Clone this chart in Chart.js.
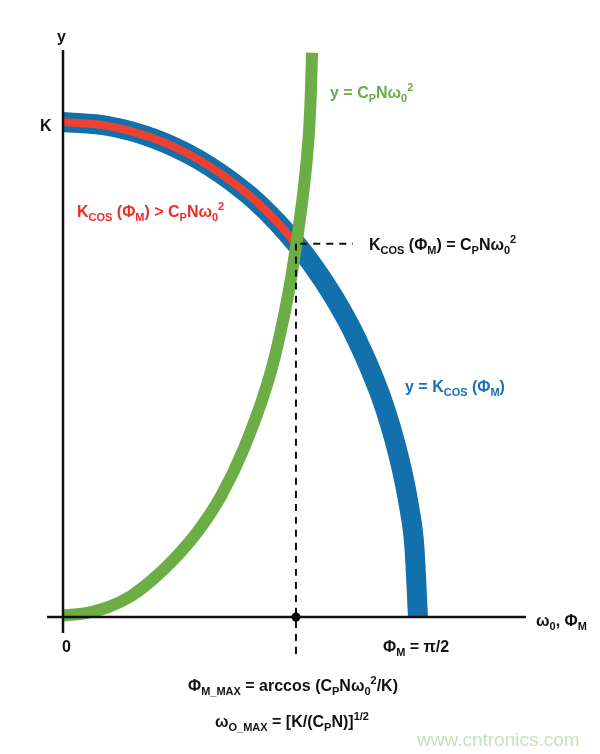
<!DOCTYPE html>
<html>
<head>
<meta charset="utf-8">
<script src="https://cdn.jsdelivr.net/npm/chart.js@4"></script>
<style>
  body { margin: 0; background: #fff; }
  #wrap { width: 600px; height: 754px; }
</style>
</head>
<body>
<div id="wrap"><canvas id="myChart"></canvas></div>
<script>
// x: omega_0 / Phi_M (phase in rad), y: in units of K
const blueX = [0, 0.2, 0.4, 0.6, 0.8, 0.9, 1.0, 1.1, 1.2, 1.3, 1.4, 1.45, 1.5, 1.53, 1.555, 1.571];
const blueY = [1.0, 0.992, 0.967, 0.924, 0.861, 0.820, 0.771, 0.714, 0.645, 0.561, 0.454, 0.385, 0.297, 0.227, 0.142, 0];

const redX = [0, 0.2, 0.4, 0.6, 0.8, 0.9, 1.0, 1.04];
const redY = [1.0, 0.992, 0.967, 0.924, 0.861, 0.820, 0.771, 0.749];

const greenX = [0, 0.1, 0.2, 0.3, 0.4, 0.5, 0.6, 0.7, 0.8, 0.9, 0.95, 1.0, 1.03, 1.06, 1.08, 1.09, 1.097, 1.102];
const greenY = [0.003, 0.008, 0.020, 0.042, 0.077, 0.121, 0.175, 0.245, 0.340, 0.465, 0.550, 0.660, 0.745, 0.845, 0.930, 0.990, 1.060, 1.140];

// crossing point and its guide lines
const vDashX = [1.031, 1.031];
const vDashY = [0.754, -0.081];
const hDashX = [1.05, 1.283];
const hDashY = [0.754, 0.754];
const dotX = [1.031];
const dotY = [0];

function pts(xs, ys) {
    return xs.map((x, i) => ({ x: x, y: ys[i] }));
}

function rich(ctx, x, y, parts, color) {
    ctx.fillStyle = color;
    ctx.textAlign = "left";
    ctx.textBaseline = "alphabetic";
    parts.forEach(p => {
        let dy = 0;
        if (p[1] === "sub") { ctx.font = "bold 11px 'Liberation Sans', Arial"; dy = 4; }
        else if (p[1] === "sup") { ctx.font = "bold 11px 'Liberation Sans', Arial"; dy = -7; }
        else if (p[1] === "big") { ctx.font = "19px 'Liberation Sans', Arial"; }
        else { ctx.font = "bold 16px 'Liberation Sans', Arial"; }
        ctx.fillText(p[0], x, y + dy);
        x += ctx.measureText(p[0]).width;
    });
}

const axesPlugin = {
    id: "axes",
    afterDatasetsDraw(chart) {
        const ctx = chart.ctx;
        const a = chart.chartArea;
        const x0 = chart.scales.x.getPixelForValue(0);
        const y0 = chart.scales.y.getPixelForValue(0);
        ctx.save();
        ctx.strokeStyle = "#111";
        ctx.lineWidth = 2.5;
        ctx.beginPath();
        ctx.moveTo(a.left, y0);
        ctx.lineTo(a.right, y0);
        ctx.moveTo(x0, a.top);
        ctx.lineTo(x0, a.bottom);
        ctx.stroke();

        // dot where the guide meets the axis
        const dx = chart.scales.x.getPixelForValue(dotX[0]);
        const dy = chart.scales.y.getPixelForValue(dotY[0]);
        ctx.fillStyle = "#000";
        ctx.beginPath();
        ctx.arc(dx, dy, 4.5, 0, Math.PI * 2);
        ctx.fill();

        const black = "#111";
        rich(ctx, 57, 42, [["y", ""]], black);
        rich(ctx, 40, 131, [["K", ""]], black);
        rich(ctx, 62, 652, [["0", ""]], black);

        rich(ctx, 330, 98, [["y = C", ""], ["P", "sub"], ["N\u03c9", ""], ["0", "sub"], ["2", "sup"]], "#6aae45");
        rich(ctx, 77, 217, [["K", ""], ["COS", "sub"], [" (\u03a6", ""], ["M", "sub"], [") > C", ""], ["P", "sub"], ["N\u03c9", ""], ["0", "sub"], ["2", "sup"]], "#ea2e2a");
        rich(ctx, 369, 250, [["K", ""], ["COS", "sub"], [" (\u03a6", ""], ["M", "sub"], [") = C", ""], ["P", "sub"], ["N\u03c9", ""], ["0", "sub"], ["2", "sup"]], black);
        rich(ctx, 405, 392, [["y = K", ""], ["COS", "sub"], [" (\u03a6", ""], ["M", "sub"], [")", ""]], "#1a72b2");

        rich(ctx, 536, 626, [["\u03c9", ""], ["0", "sub"], [", \u03a6", ""], ["M", "sub"]], black);
        rich(ctx, 383, 652, [["\u03a6", ""], ["M", "sub"], [" = \u03c0/2", ""]], black);
        rich(ctx, 188, 691, [["\u03a6", ""], ["M_MAX", "sub"], [" = arccos (C", ""], ["P", "sub"], ["N\u03c9", ""], ["0", "sub"], ["2", "sup"], ["/K)", ""]], black);
        rich(ctx, 215, 727, [["\u03c9", ""], ["O_MAX", "sub"], [" = [K/(C", ""], ["P", "sub"], ["N)]", ""], ["1/2", "sup"]], black);
        rich(ctx, 417, 746, [["www.cntronics.com", "big"]], "#c4e3b8");
        ctx.restore();
    }
};

const line = {
    pointRadius: 0,
    fill: false,
    borderCapStyle: "butt",
    cubicInterpolationMode: "monotone",
    clip: false
};

new Chart("myChart", {
    type: "line",
    data: {
        datasets: [
            Object.assign({}, line, { data: pts(vDashX, vDashY), borderColor: "#111", borderWidth: 2, borderDash: [7, 6], order: 0 }),
            Object.assign({}, line, { data: pts(hDashX, hDashY), borderColor: "#111", borderWidth: 2, borderDash: [7, 6], order: 0 }),
            Object.assign({}, line, { data: pts(greenX, greenY), borderColor: "#6aae45", borderWidth: 12, order: 1 }),
            Object.assign({}, line, { data: pts(redX, redY), borderColor: "#ee4130", borderWidth: 8, order: 2 }),
            Object.assign({}, line, { data: pts(blueX, blueY), borderColor: "#1271ac", borderWidth: 20, order: 3 })
        ]
    },
    options: {
        responsive: true,
        maintainAspectRatio: false,
        animation: false,
        layout: { padding: { left: 47, right: 74, top: 50, bottom: 121 } },
        plugins: { legend: { display: false }, tooltip: { enabled: false } },
        scales: {
            x: { type: "linear", min: -0.0708, max: 2.049, display: false },
            y: { type: "linear", min: -0.0323, max: 1.1455, display: false }
        }
    },
    plugins: [axesPlugin]
});
</script>
</body>
</html>
